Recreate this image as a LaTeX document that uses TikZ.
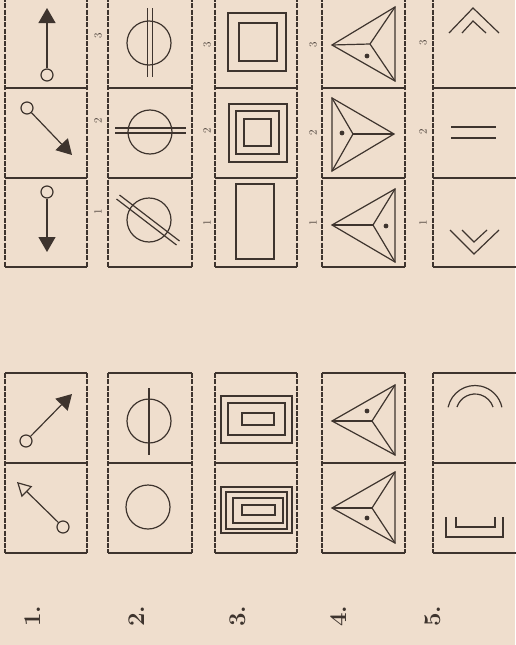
\documentclass[tikz,border=0pt]{standalone}
\usetikzlibrary{arrows.meta}
\definecolor{paper}{RGB}{239,222,205}
\definecolor{ink}{RGB}{62,52,46}
\begin{document}
\begin{tikzpicture}[x=1pt,y=-1pt,
  fig/.style={draw=ink, line width=1.2pt},
  hedge/.style={draw=ink, line width=1.5pt},
  vedge/.style={draw=ink, line width=1.4pt, dash pattern=on 5pt off 1.3pt},
  ring/.style={circle, draw=ink, line width=1.2pt, minimum size=12pt, inner sep=0pt},
  filltip/.style={-{Triangle[length=15pt,width=17pt]}},
  opentip/.style={-{Triangle[open,length=14pt,width=15pt]}},
  dotmark/.style={fill=ink},
  num/.style={rotate=90, text=ink, inner sep=0pt, font=\fontsize{24}{24}\selectfont\bfseries},
  small/.style={rotate=90, text=ink, inner sep=0pt, font=\fontsize{11}{11}\selectfont}]
\fill[paper] (0,0) rectangle (515,645);
\useasboundingbox (0,0) rectangle (515,645);

% cell borders
\foreach \xl/\xr in {5/87,108/192,215/297,322/405,433/522}{
  \draw[vedge] (\xl,-3) -- (\xl,267);
  \draw[vedge] (\xr,-3) -- (\xr,267);
  \draw[hedge] (\xl,88) -- (\xr,88);
  \draw[hedge] (\xl,178) -- (\xr,178);
  \draw[hedge] (\xl,267) -- (\xr,267);
  \draw[vedge] (\xl,373) -- (\xl,553);
  \draw[vedge] (\xr,373) -- (\xr,553);
  \draw[hedge] (\xl,373) -- (\xr,373);
  \draw[hedge] (\xl,463) -- (\xr,463);
  \draw[hedge] (\xl,553) -- (\xr,553);
}

% small answer labels
\foreach \x/\a/\b/\c in {98/36/121/212,207/45/131/223,313/45/133/223,423/43/132/223}{
  \node[small] at (\x,\a) {3};
  \node[small] at (\x,\b) {2};
  \node[small] at (\x,\c) {1};
}

% ---- task 1: arrows ----
\node[ring] (u3c) at (47,75) {};
\coordinate (u3t) at (47,8);
\draw[fig, filltip] (u3c) -- (u3t);
\node[ring] (u2c) at (27,108) {};
\coordinate (u2t) at (72,155);
\draw[fig, filltip] (u2c) -- (u2t);
\node[ring] (u1c) at (47,192) {};
\coordinate (u1t) at (47,252);
\draw[fig, filltip] (u1c) -- (u1t);
\node[ring] (l1c) at (26,441) {};
\coordinate (l1t) at (72,394);
\draw[fig, filltip] (l1c) -- (l1t);
\node[ring] (l2c) at (63,527) {};
\coordinate (l2t) at (17,482);
\draw[fig, opentip] (l2c) -- (l2t);

% ---- task 2: circles ----
\draw[fig] (149,43) circle (22);
\draw[fig] (147.5,8) -- (147.5,77);
\draw[fig] (152.5,8) -- (152.5,77);
\draw[fig] (150,132) circle (22);
\draw[fig] (115,128) -- (186,128);
\draw[fig] (115,133) -- (186,133);
\draw[fig] (149,220) circle (22);
\draw[fig] (119.5,195) -- (179.5,241);
\draw[fig] (116.5,199) -- (176.5,245);
\draw[fig] (149,421) circle (22);
\draw[fig] (149,388) -- (149,455);
\draw[fig] (148,507) circle (22);

% ---- task 3: rectangles ----
\draw[fig] (228,13) rectangle (286,71);
\draw[fig] (239,23) rectangle (277,61);
\draw[fig] (229,104) rectangle (287,162);
\draw[fig] (236,111) rectangle (279,154);
\draw[fig] (244,119) rectangle (271,146);
\draw[fig] (236,184) rectangle (274,259);
\draw[fig] (221,396) rectangle (292,443);
\draw[fig] (228,403) rectangle (285,435);
\draw[fig] (242,413) rectangle (274,425);
\draw[fig] (221,487) rectangle (292,533);
\draw[fig] (226,492) rectangle (287,529);
\draw[fig] (233,498) rectangle (283,523);
\draw[fig] (242,505) rectangle (275,515);

% ---- task 4: triangles ----
\foreach \ax/\ay/\bx/\by/\cx/\cy/\ox/\oy/\dx/\dy in {
  332/45/395/7/395/81/370/44/367/56,
  332/98/332/171/394/134/353/134/342/133,
  332/225/395/189/395/262/373/225/386/226,
  332/421/395/385/395/455/372/421/367/411,
  332/508/395/472/395/543/372/508/367/518}{
  \draw[fig, line join=miter] (\ax,\ay) -- (\bx,\by) -- (\cx,\cy) -- cycle;
  \draw[fig] (\ox,\oy) -- (\ax,\ay);
  \draw[fig] (\ox,\oy) -- (\bx,\by);
  \draw[fig] (\ox,\oy) -- (\cx,\cy);
  \fill[dotmark] (\dx,\dy) circle (2.4);
}

% ---- task 5: marks ----
\draw[fig] (449,33) -- (473,8) -- (499,33);
\draw[fig] (462,33) -- (473,21) -- (486,33);
\draw[fig] (451,127) -- (496,127);
\draw[fig] (451,138) -- (496,138);
\draw[fig] (450,230) -- (474,254) -- (499,230);
\draw[fig] (462,230) -- (474,242) -- (487,230);
\draw[fig] ([shift={(192:27.5)}]475,413) arc[start angle=192, end angle=348, radius=27.5];
\draw[fig] ([shift={(198.4:19)}]475,413) arc[start angle=198.4, end angle=341.6, radius=19];
\draw[fig] (446,517) -- (446,537) -- (503,537) -- (503,517);
\draw[fig] (456,517) -- (456,527) -- (495,527) -- (495,517);

% ---- task numbers ----
\node[num] (n1) at (33,616) {1.};
\node[num] (n2) at (137,616) {2.};
\node[num] (n3) at (238,616) {3.};
\node[num] (n4) at (339,616) {4.};
\node[num] (n5) at (433,616) {5.};
\end{tikzpicture}
\end{document}
